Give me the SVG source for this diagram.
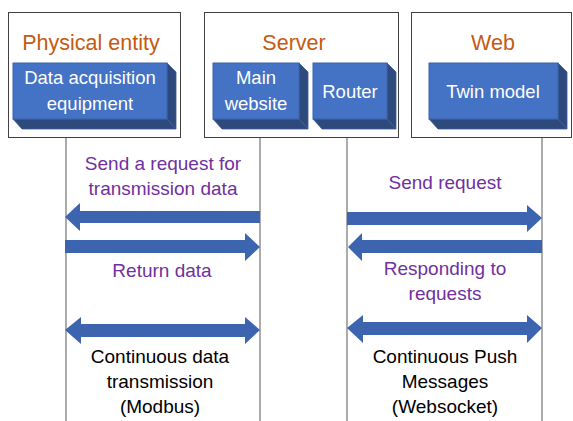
<svg xmlns="http://www.w3.org/2000/svg" width="573" height="421" viewBox="0 0 573 421">
  <style>
    .frame { fill: #ffffff; stroke: #404040; stroke-width: 1; }
    .life { stroke: #7f7f7f; stroke-width: 1.3; fill: none; }
    .face { fill: #4472C4; stroke: #3a63ad; stroke-width: 1; }
    .side { fill: #2E4A7D; stroke: #3a5a96; stroke-width: 0.8; }
    .title { font-family: "Liberation Sans", Arial, sans-serif; font-size: 21.5px; fill: #C55A11; text-anchor: middle; }
    .btxt { font-family: "Liberation Sans", Arial, sans-serif; font-size: 18.5px; fill: #ffffff; text-anchor: middle; }
    .ptxt { font-family: "Liberation Sans", Arial, sans-serif; font-size: 19px; fill: #7030A0; text-anchor: middle; }
    .ktxt { font-family: "Liberation Sans", Arial, sans-serif; font-size: 19px; fill: #000000; text-anchor: middle; }
    .arrow { fill: #3D64AE; }
  </style>

  <!-- lifelines -->
  <g id="lifelines">
    <line class="life" x1="66" y1="137" x2="66" y2="421"/>
    <line class="life" x1="260" y1="137" x2="260" y2="421"/>
    <line class="life" x1="347" y1="137" x2="347" y2="421"/>
    <line class="life" x1="542" y1="137" x2="542" y2="421"/>
  </g>

  <!-- Physical entity -->
  <g id="physical-entity">
    <rect class="frame" x="8.5" y="12.5" width="172" height="125"/>
    <text class="title" x="91" y="50">Physical entity</text>
    <g id="data-acquisition">
      <polygon class="side" points="167,63 176,72 176,129 167,119"/>
      <polygon class="side" points="13,119 167,119 176,129 22,129"/>
      <rect class="face" x="13" y="63" width="154" height="56"/>
      <text class="btxt" x="90" y="84">Data acquisition</text>
      <text class="btxt" x="90" y="110">equipment</text>
    </g>
  </g>

  <!-- Server -->
  <g id="server">
    <rect class="frame" x="204.5" y="12.5" width="194" height="125"/>
    <text class="title" x="294" y="50">Server</text>
    <g id="main-website">
      <polygon class="side" points="299,63 308,72 308,129 299,119"/>
      <polygon class="side" points="213,119 299,119 308,129 222,129"/>
      <rect class="face" x="213" y="63" width="86" height="56"/>
      <text class="btxt" x="256" y="84">Main</text>
      <text class="btxt" x="256" y="110">website</text>
    </g>
    <g id="router">
      <polygon class="side" points="387,63 396,72 396,129 387,119"/>
      <polygon class="side" points="313,119 387,119 396,129 322,129"/>
      <rect class="face" x="313" y="63" width="74" height="56"/>
      <text class="btxt" x="350" y="98">Router</text>
    </g>
  </g>

  <!-- Web -->
  <g id="web">
    <rect class="frame" x="411.5" y="12.5" width="160" height="125"/>
    <text class="title" x="493" y="50">Web</text>
    <g id="twin-model">
      <polygon class="side" points="558,63 567,72 567,129 558,119"/>
      <polygon class="side" points="429,119 558,119 567,129 438,129"/>
      <rect class="face" x="429" y="63" width="129" height="56"/>
      <text class="btxt" x="493" y="98">Twin model</text>
    </g>
  </g>

  <!-- connectors -->
  <g id="connectors">
    <!-- request to acquisition equipment (leftward) -->
    <polygon class="arrow" points="260,211 80,211 80,203 65,217 80,231 80,223 260,223"/>
    <!-- return data (rightward) -->
    <polygon class="arrow" points="65,240 245,240 245,233 260,247 245,261 245,253 65,253"/>
    <!-- send request (rightward) -->
    <polygon class="arrow" points="347,212 527,212 527,205 542,218 527,232 527,225 347,225"/>
    <!-- responding (leftward) -->
    <polygon class="arrow" points="542,240 362,240 362,233 348,247 362,261 362,253 542,253"/>
    <!-- Modbus (two-way) -->
    <polygon class="arrow" points="65,330 81,317 81,324 245,324 245,317 260,330 245,344 245,337 81,337 81,344"/>
    <!-- Websocket (two-way) -->
    <polygon class="arrow" points="347,328 363,315 363,322 527,322 527,315 542,328 527,343 527,335 363,335 363,343"/>
  </g>

  <!-- labels -->
  <g id="labels">
    <text class="ptxt" x="163" y="170">Send a request for</text>
    <text class="ptxt" x="163" y="195">transmission data</text>
    <text class="ptxt" x="162" y="277">Return data</text>
    <text class="ptxt" x="445" y="189">Send request</text>
    <text class="ptxt" x="445" y="275">Responding to</text>
    <text class="ptxt" x="445" y="300">requests</text>
    <text class="ktxt" x="160" y="363">Continuous data</text>
    <text class="ktxt" x="160" y="388">transmission</text>
    <text class="ktxt" x="160" y="413">(Modbus)</text>
    <text class="ktxt" x="445" y="363">Continuous Push</text>
    <text class="ktxt" x="445" y="388">Messages</text>
    <text class="ktxt" x="445" y="413">(Websocket)</text>
  </g>
</svg>
